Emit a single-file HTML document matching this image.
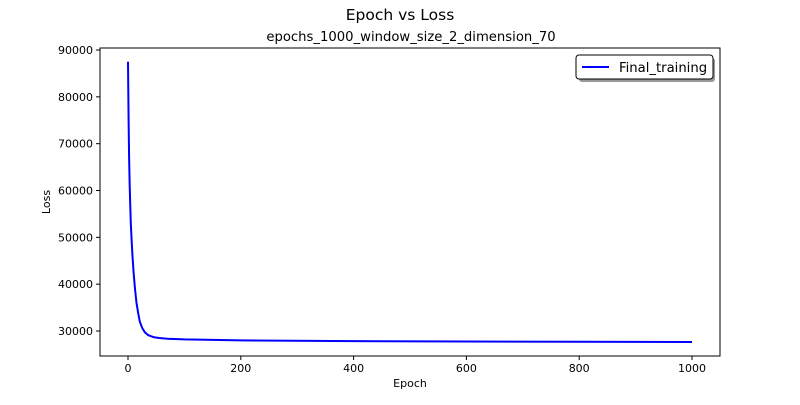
<!DOCTYPE html>
<html><head><meta charset="utf-8"><style>
body{margin:0;background:#fff}
svg text{font-family:"DejaVu Sans","Liberation Sans",sans-serif;fill:#000}
</style></head><body>
<svg id="chart" width="800" height="400" xmlns="http://www.w3.org/2000/svg">
<rect width="800" height="400" fill="#fff"/>
<text x="400" y="20" font-size="15.5" text-anchor="middle">Epoch vs Loss</text>
<text x="411" y="41" font-size="13.2" text-anchor="middle">epochs_1000_window_size_2_dimension_70</text>
<g id="ticks"></g>
<path id="line" fill="none" stroke="#0000ff" stroke-width="2" stroke-linejoin="round"/>
<rect x="100" y="48" width="620" height="308" fill="none" stroke="#000" stroke-width="1"/>
<text x="410" y="387" font-size="11" text-anchor="middle">Epoch</text>
<text transform="translate(50,202) rotate(-90)" font-size="11" text-anchor="middle">Loss</text>
<g>
<rect x="579" y="58" width="136" height="24" rx="3" fill="#555" opacity="0.6"/>
<rect x="576" y="55" width="137" height="24" rx="3" fill="#fff" stroke="#000" stroke-width="1"/>
<line x1="582" y1="67" x2="609" y2="67" stroke="#0000ff" stroke-width="2"/>
<text x="619" y="72" font-size="13.2">Final_training</text>
</g>
</svg>
<script>
const epochs=[0,1,2,3,4,5,6.5,8,10,12.4,15,18,21,25,30,36,45,55,70,100,200,400,600,800,1000];
const losses=[87500,75000,67000,61000,56500,53000,49000,46000,42500,39000,36000,33800,32000,30700,29700,29100,28700,28500,28350,28200,28000,27850,27750,27700,27650];
const xTicks=[0,200,400,600,800,1000];
const yTicks=[30000,40000,50000,60000,70000,80000,90000];
const X=v=>128+v*0.564;
const Y=v=>331-(v-30000)*0.004683;
const ns="http://www.w3.org/2000/svg";
const g=document.getElementById('ticks');
function mk(t,a){const e=document.createElementNS(ns,t);for(const k in a)e.setAttribute(k,a[k]);g.appendChild(e);return e;}
xTicks.forEach(t=>{
 const l=mk('line',{x1:X(t),x2:X(t),y1:356,y2:360,stroke:'#000'});
 
 
 const tx=mk('text',{x:X(t),y:372,'font-size':11,'text-anchor':'middle'});tx.textContent=t;
 
 
});
yTicks.forEach(t=>{
 const l=mk('line',{x1:96,x2:100,y1:Y(t),y2:Y(t),stroke:'#000'});
 
 
 const tx=mk('text',{x:93,y:Y(t)+4,'font-size':11,'text-anchor':'end'});tx.textContent=t;
 
 
});
document.getElementById('line').setAttribute('d',epochs.map((e,i)=>(i?'L':'M')+X(e).toFixed(1)+','+Y(losses[i]).toFixed(1)).join(''));
</script>
</body></html>
